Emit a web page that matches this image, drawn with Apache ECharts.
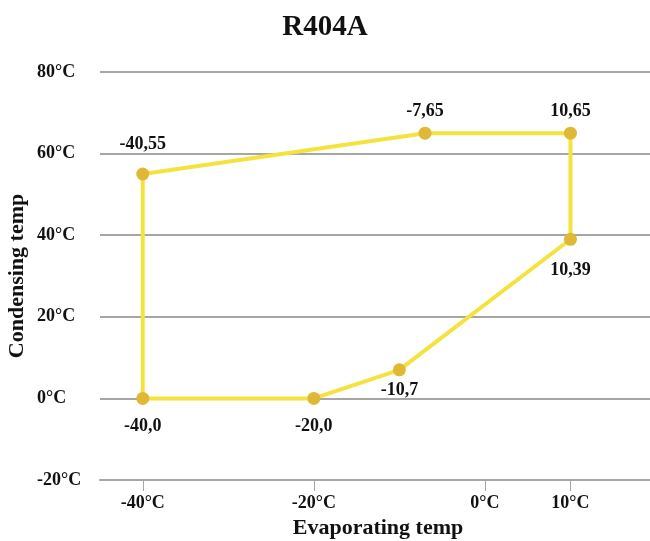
<!DOCTYPE html>
<html>
<head>
<meta charset="utf-8">
<script src="https://cdn.jsdelivr.net/npm/echarts@6/dist/echarts.min.js"></script>
<style>
  html, body { margin: 0; padding: 0; background: #fff; }
  #chart { width: 650px; height: 541px; }
</style>
</head>
<body>
<div id="chart"></div>
<script>
// envelope points, in drawing order (the loop closes back on the first)
const evapTemps = [-40, -40, -7, 10, 10, -10, -20];
const condTemps = [0, 55, 65, 65, 39, 7, 0];
const xTicks = [-40, -20, 0, 10];
const yTicks = [-20, 0, 20, 40, 60, 80];

const FONT = '"Liberation Serif", serif';
const GRID_GRAY = '#a6a6a6';

// label placement per point: above for the top edge, below for the rest
const labelPlace = [
  { position: 'bottom', distance: 12 },
  { position: 'top', distance: 14 },
  { position: 'top', distance: 6 },
  { position: 'top', distance: 6 },
  { position: 'bottom', distance: 16 },
  { position: 'bottom', distance: 5 },
  { position: 'bottom', distance: 12 },
];

const points = evapTemps.map((x, i) => ({
  value: [x, condTemps[i]],
  label: { show: true, ...labelPlace[i] },
}));
// close the loop, no label on the repeated point
points.push({ value: [evapTemps[0], condTemps[0]], label: { show: false }, symbol: 'none' });

const chart = echarts.init(document.getElementById('chart'));
chart.setOption({
  animation: false,
  textStyle: { fontFamily: FONT },
  title: {
    text: 'R404A',
    left: 'center',
    top: 8,
    textStyle: { fontFamily: FONT, fontSize: 29, fontWeight: 'bold', color: '#111' },
  },
  grid: { left: 100, top: 72, width: 556, height: 408, outerBoundsMode: 'none' },
  xAxis: {
    type: 'value',
    min: -45,
    max: 20,
    name: 'Evaporating temp',
    nameLocation: 'middle',
    nameGap: 37,
    nameMoveOverlap: false,
    nameTextStyle: { fontFamily: FONT, fontSize: 22, fontWeight: 'bold', color: '#111' },
    axisLine: { show: true, onZero: false, lineStyle: { color: GRID_GRAY, width: 2 } },
    axisTick: { show: true, length: 11, customValues: xTicks, lineStyle: { color: GRID_GRAY, width: 1 } },
    axisLabel: {
      customValues: xTicks,
      formatter: v => v + '°C',
      margin: 14,
      fontFamily: FONT, fontSize: 18, fontWeight: 'bold', color: '#111',
    },
    splitLine: { show: false },
  },
  yAxis: {
    type: 'value',
    min: yTicks[0],
    max: yTicks[yTicks.length - 1],
    interval: 20,
    name: 'Condensing temp',
    nameLocation: 'middle',
    nameGap: 72,
    nameMoveOverlap: false,
    nameTextStyle: { fontFamily: FONT, fontSize: 22, fontWeight: 'bold', color: '#111' },
    axisLine: { show: false },
    axisTick: { show: false },
    axisLabel: {
      formatter: v => v + '°C',
      align: 'left',
      margin: 63,
      fontFamily: FONT, fontSize: 18, fontWeight: 'bold', color: '#111',
    },
    splitLine: { show: true, lineStyle: { color: GRID_GRAY, width: 2 } },
  },
  series: [{
    type: 'line',
    data: points,
    symbol: 'circle',
    symbolSize: 13,
    showAllSymbol: true,
    lineStyle: { color: '#f4e33f', width: 4 },
    itemStyle: { color: '#dfb935' },
    label: {
      formatter: p => p.value[0] + ',' + p.value[1],
      fontFamily: FONT, fontSize: 18, fontWeight: 'bold', color: '#111',
    },
    z: 3,
  }],
});
</script>
</body>
</html>
